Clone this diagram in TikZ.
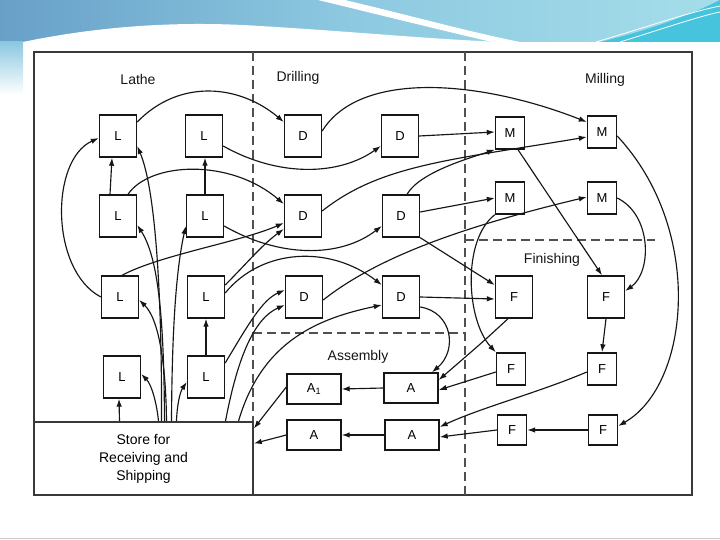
\documentclass[tikz,border=0pt]{standalone}
\usepackage{fontspec}
\setmainfont{Liberation Sans}
\usetikzlibrary{arrows.meta,calc}
\definecolor{ink}{HTML}{161616}
\definecolor{bandA}{RGB}{104,160,200}
\definecolor{bandB}{RGB}{140,200,224}
\definecolor{bandC}{RGB}{165,222,234}
\definecolor{bandD}{RGB}{70,196,222}
\begin{document}
\begin{tikzpicture}[x=1pt,y=-1pt,
  lbox/.style={draw=ink, line width=1.4pt, minimum width=37pt, minimum height=42pt, inner sep=0pt, font=\fontsize{13}{15}\selectfont},
  sbox/.style={lbox, minimum width=29pt, minimum height=32pt},
  tbox/.style={lbox, minimum width=29pt, minimum height=30pt},
  abox/.style={lbox, minimum width=54pt, minimum height=30pt},
  arr/.style={draw=ink, line width=1.15pt, -{Latex[length=8pt,width=5.5pt]}},
  zone/.style={draw=ink!75, line width=1.4pt, dash pattern=on 9pt off 5pt},
  lab/.style={font=\fontsize{14}{16}\selectfont, text=ink}]
\useasboundingbox (0,0) rectangle (720,540);
% ---- slide background ----
\fill[white] (0,0) rectangle (720,540);
\shade[left color=bandA, right color=bandB] (0,0) rectangle (340,42);
\shade[left color=bandB, right color=bandC] (340,0) rectangle (720,42);
\shade[top color=bandB, bottom color=white] (0,42) rectangle (23,95);
\fill[white] (23,42) .. controls (90,28) and (170,20) .. (260,26) .. controls (360,32) and (440,40) .. (505,42) -- cycle;
\fill[white] (318,0) -- (345,0) .. controls (420,18) and (470,32) .. (520,42) -- (492,42) .. controls (440,30) and (380,15) .. cycle;
\fill[bandD] (600,42) .. controls (650,30) and (690,15) .. (720,0) -- (720,42) -- cycle;
\draw[white, line width=0.8pt] (596,42) .. controls (650,26) and (690,12) .. (720,6);
\draw[white, line width=0.8pt] (620,42) .. controls (665,28) and (700,16) .. (720,12);
\draw[gray!40, line width=1pt] (0,538) -- (720,538);
% ---- frame and zones ----
\draw[ink!85, line width=1.8pt] (34,52) rectangle (692,495);
\draw[zone] (253,52) -- (253,422);
\draw[zone] (465,52) -- (465,495);
\draw[zone] (253,333) -- (465,333);
\draw[zone] (465,240) -- (655,240);
\node[lab] at (138,79) {Lathe};
\node[lab] at (298,78) {Drilling};
\node[lab] at (605,80) {Milling};
\node[lab] at (552,260) {Finishing};
\node[lab] at (358,357) {Assembly};
% ---- nodes ----
\node[draw=ink!85, line width=1.6pt, minimum width=219pt, minimum height=73pt, inner sep=0pt,
      align=center, font=\fontsize{14}{18}\selectfont] (S) at (143.5,458.5) {Store for\\Receiving and\\Shipping};
\node[lbox] (L11) at (118,136) {L};
\node[lbox] (L12) at (204,136) {L};
\node[lbox] (L21) at (118,216) {L};
\node[lbox] (L22) at (205,216) {L};
\node[lbox] (L31) at (120,297) {L};
\node[lbox] (L32) at (206,297) {L};
\node[lbox] (L41) at (122,377) {L};
\node[lbox] (L42) at (206,377) {L};
\node[lbox] (D11) at (303,136) {D};
\node[lbox] (D12) at (400,136) {D};
\node[lbox] (D21) at (303,216) {D};
\node[lbox] (D22) at (401,216) {D};
\node[lbox] (D31) at (304,297) {D};
\node[lbox] (D32) at (401,297) {D};
\node[sbox] (M11) at (510,133) {M};
\node[sbox] (M12) at (602,132) {M};
\node[sbox] (M21) at (510,198) {M};
\node[sbox] (M22) at (602,198) {M};
\node[lbox] (F11) at (514,297) {F};
\node[lbox] (F12) at (606,297) {F};
\node[sbox] (F21) at (511,369) {F};
\node[sbox] (F22) at (602,369) {F};
\node[tbox] (F31) at (512,430) {F};
\node[tbox] (F32) at (603,430) {F};
\node[abox] (A11) at (314,389) {A\textsubscript{1}};
\node[abox] (A12) at (411,388) {A};
\node[abox] (A21) at (314,435) {A};
\node[abox] (A22) at (412,435) {A};
% ---- lathe connectors ----
\draw[arr] ([xshift=-8pt]L21.north) -- ([xshift=-6pt]L11.south);
\draw[arr] (L31.west) .. controls (50,270) and (50,160) .. ([yshift=-2pt]L11.west);
\draw[arr] ([xshift=-24pt]S.north) -- ([xshift=-3pt]L41.south);
\draw[arr] ([xshift=18pt]S.north) .. controls (162,300) and (156,190) .. ([yshift=-10pt]L11.east);
\draw[arr] ([xshift=21pt]S.north) .. controls (164,330) and (160,260) .. ([yshift=-9pt]L21.east);
\draw[arr] ([xshift=23pt]S.north) .. controls (166,370) and (160,320) .. ([yshift=-3pt]L31.east);
\draw[arr] ([xshift=15pt]S.north) .. controls (157,405) and (152,385) .. ([yshift=3pt]L41.east);
\draw[arr] ([xshift=28pt]S.north) .. controls (172,330) and (176,270) .. ([yshift=-10pt]L22.west);
\draw[arr] ([xshift=33pt]S.north) .. controls (177,405) and (180,392) .. ([yshift=-5pt]L42.west);
\draw[arr] (L42.north) -- (L32.south);
\draw[arr] (L22.north) -- ([xshift=1pt]L12.south);
% ---- lathe to drilling ----
\draw[arr] ([yshift=14pt]L11.east) .. controls (180,78) and (240,85) .. ([yshift=14pt]D11.west);
\draw[arr] ([yshift=-10pt]L12.east) .. controls (280,178) and (340,175) .. ([yshift=-10pt]D12.west);
\draw[arr] ([xshift=10pt]L21.north) .. controls (150,162) and (230,158) .. ([yshift=12pt]D21.west);
\draw[arr] ([yshift=-10pt]L22.east) .. controls (280,258) and (340,258) .. ([yshift=-10pt]D22.west);
\draw[arr] ([xshift=2pt]L31.north) .. controls (160,255) and (240,242) .. ([yshift=-7pt]D21.west);
\draw[arr] ([yshift=12pt]L32.east) .. controls (248,262) and (262,245) .. ([yshift=-13pt]D21.west);
\draw[arr] ([yshift=4pt]L32.east) .. controls (262,248) and (330,245) .. ([yshift=12pt]D32.west);
\draw[arr] ([yshift=14pt]L42.east) .. controls (248,325) and (262,300) .. ([yshift=7pt]D31.west);
\draw[arr] ([xshift=82pt]S.north) .. controls (238,355) and (255,318) .. ([yshift=-8pt]D31.west);
\draw[arr] ([xshift=95pt]S.north) .. controls (262,340) and (320,318) .. ([yshift=-8pt]D32.west);
% ---- drilling to milling / finishing ----
\draw[arr] ([yshift=5pt]D11.east) .. controls (360,70) and (480,80) .. ([yshift=10pt]M12.west);
\draw[arr] (D12.east) -- ([yshift=1pt]M11.west);
\draw[arr] ([yshift=5pt]D21.east) .. controls (380,165) and (450,160) .. ([yshift=-5pt]M12.west);
\draw[arr] ([xshift=6pt]D22.north) .. controls (420,172) and (470,158) .. (M11.south west);
\draw[arr] ([yshift=4pt]D22.east) -- (M21.west);
\draw[arr] (D22.south east) -- ([yshift=12pt]F11.west);
\draw[arr] ([yshift=-3pt]D31.east) .. controls (380,255) and (470,225) .. ([yshift=1pt]M22.west);
\draw[arr] (D32.east) -- ([yshift=-2pt]F11.west);
\draw[arr] ([yshift=-10pt]D32.east) .. controls (452,312) and (458,350) .. ([xshift=21pt]A12.north);
% ---- milling to finishing ----
\draw[arr] ([xshift=8pt]M11.south) -- ([xshift=-4pt]F12.north);
\draw[arr] ([yshift=-4pt]M12.east) .. controls (705,230) and (690,385) .. ([yshift=4pt]F32.east);
\draw[arr] (M22.east) .. controls (652,215) and (652,272) .. ([yshift=6pt]F12.east);
\draw[arr] (M21.south west) .. controls (462,240) and (466,320) .. (F21.north west);
\draw[arr] (F12.south) -- (F22.north);
\draw[arr] (F32.west) -- (F31.east);
% ---- finishing to assembly ----
\draw[arr] ([xshift=-6pt]F11.south) .. controls (485,340) .. ([yshift=8pt]A12.east);
\draw[arr] ([yshift=-3pt]F21.west) -- ([yshift=-2pt]A12.east);
\draw[arr] ([yshift=-3pt]F22.west) .. controls (540,392) and (480,408) .. ([yshift=8pt]A22.east);
\draw[arr] (F31.west) -- ([yshift=-2pt]A22.east);
\draw[arr] (A12.west) -- (A11.east);
\draw[arr] (A22.west) -- (A21.east);
\draw[arr] ([yshift=2pt]A11.west) -- ([yshift=30pt]S.east);
\draw[arr] (A21.west) -- ([yshift=15pt]S.east);
\end{tikzpicture}
\end{document}
